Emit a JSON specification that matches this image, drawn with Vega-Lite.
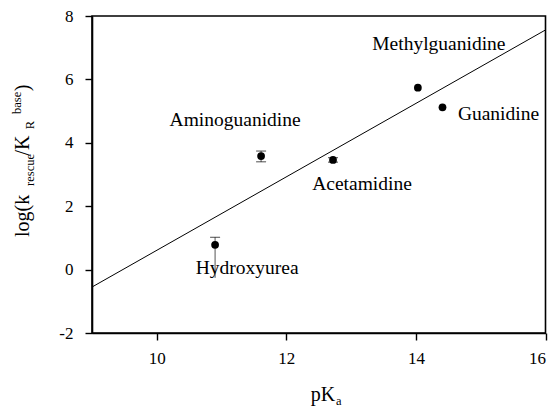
{
  "$schema": "https://vega.github.io/schema/vega-lite/v6.json",
  "width": 453.5,
  "height": 317,
  "autosize": {"type": "none"},
  "padding": {"left": 92, "top": 16, "right": 11, "bottom": 75},
  "background": "white",
  "datasets": {
    "pts": [
      {"compound": "Hydroxyurea", "pKa": 10.9, "logk": 0.78, "lo": -0.26, "hi": 1.02},
      {"compound": "Aminoguanidine", "pKa": 11.61, "logk": 3.58, "lo": 3.4, "hi": 3.74},
      {"compound": "Acetamidine", "pKa": 12.72, "logk": 3.46, "lo": 3.39, "hi": 3.53},
      {"compound": "Methylguanidine", "pKa": 14.03, "logk": 5.74, "lo": 5.74, "hi": 5.74},
      {"compound": "Guanidine", "pKa": 14.41, "logk": 5.12, "lo": 5.12, "hi": 5.12}
    ],
    "fit": [
      {"pKa": 9, "logk": -0.55},
      {"pKa": 16, "logk": 7.56}
    ],
    "one": [{}]
  },
  "config": {
    "view": {"stroke": "black", "strokeWidth": 1.6}
  },
  "layer": [
    {
      "data": {"name": "fit"},
      "mark": {"type": "line", "color": "black", "strokeWidth": 1},
      "encoding": {
        "x": {"field": "pKa", "type": "quantitative", "scale": {"domain": [9, 16], "nice": false, "zero": false},
              "axis": {"values": [10, 12, 14, 16], "labelExpr": "'' + datum.value", "labelPadding": 10, "title": null, "grid": false,
                       "domainColor": "black", "domainWidth": 1.6, "tickColor": "black", "tickWidth": 1.4, "tickSize": 7,
                       "labelFont": "Liberation Serif", "labelFontSize": 17, "labelColor": "black"}},
        "y": {"field": "logk", "type": "quantitative", "scale": {"domain": [-2, 8], "nice": false, "zero": false},
              "axis": {"values": [-2, 0, 2, 4, 6, 8], "labelExpr": "'' + datum.value", "labelPadding": 12, "title": null, "grid": false,
                       "domainColor": "black", "domainWidth": 1.6, "tickColor": "black", "tickWidth": 1.4, "tickSize": 7,
                       "labelFont": "Liberation Serif", "labelFontSize": 17, "labelColor": "black"}}
      }
    },
    {
      "data": {"name": "pts"},
      "transform": [{"filter": "datum.hi > datum.lo"}],
      "mark": {"type": "rule", "color": "#555", "strokeWidth": 1},
      "encoding": {
        "x": {"field": "pKa", "type": "quantitative"},
        "y": {"field": "lo", "type": "quantitative"},
        "y2": {"field": "hi"}
      }
    },
    {
      "data": {"name": "pts"},
      "transform": [{"filter": "datum.hi > datum.lo"}],
      "mark": {"type": "tick", "orient": "horizontal", "color": "black", "size": 10, "thickness": 1},
      "encoding": {
        "x": {"field": "pKa", "type": "quantitative"},
        "y": {"field": "hi", "type": "quantitative"}
      }
    },
    {
      "data": {"name": "pts"},
      "transform": [{"filter": "datum.hi > datum.lo && datum.compound != 'Hydroxyurea'"}],
      "mark": {"type": "tick", "orient": "horizontal", "color": "black", "size": 10, "thickness": 1},
      "encoding": {
        "x": {"field": "pKa", "type": "quantitative"},
        "y": {"field": "lo", "type": "quantitative"}
      }
    },
    {
      "data": {"name": "pts"},
      "mark": {"type": "circle", "color": "black", "opacity": 1, "size": 60},
      "encoding": {
        "x": {"field": "pKa", "type": "quantitative"},
        "y": {"field": "logk", "type": "quantitative"}
      }
    },
    {
      "data": {"name": "pts"},
      "transform": [{"filter": "datum.compound == 'Hydroxyurea'"}],
      "mark": {"type": "text", "font": "Liberation Serif", "fontSize": 19.5, "color": "black", "align": "center", "baseline": "alphabetic", "dx": 32, "dy": 29},
      "encoding": {"x": {"field": "pKa", "type": "quantitative"}, "y": {"field": "logk", "type": "quantitative"}, "text": {"field": "compound"}}
    },
    {
      "data": {"name": "pts"},
      "transform": [{"filter": "datum.compound == 'Aminoguanidine'"}],
      "mark": {"type": "text", "font": "Liberation Serif", "fontSize": 19.5, "color": "black", "align": "center", "baseline": "alphabetic", "dx": -26, "dy": -30},
      "encoding": {"x": {"field": "pKa", "type": "quantitative"}, "y": {"field": "logk", "type": "quantitative"}, "text": {"field": "compound"}}
    },
    {
      "data": {"name": "pts"},
      "transform": [{"filter": "datum.compound == 'Acetamidine'"}],
      "mark": {"type": "text", "font": "Liberation Serif", "fontSize": 19.5, "color": "black", "align": "center", "baseline": "alphabetic", "dx": 29, "dy": 30},
      "encoding": {"x": {"field": "pKa", "type": "quantitative"}, "y": {"field": "logk", "type": "quantitative"}, "text": {"field": "compound"}}
    },
    {
      "data": {"name": "pts"},
      "transform": [{"filter": "datum.compound == 'Methylguanidine'"}],
      "mark": {"type": "text", "font": "Liberation Serif", "fontSize": 19.5, "color": "black", "align": "center", "baseline": "alphabetic", "dx": 21, "dy": -38},
      "encoding": {"x": {"field": "pKa", "type": "quantitative"}, "y": {"field": "logk", "type": "quantitative"}, "text": {"field": "compound"}}
    },
    {
      "data": {"name": "pts"},
      "transform": [{"filter": "datum.compound == 'Guanidine'"}],
      "mark": {"type": "text", "font": "Liberation Serif", "fontSize": 19.5, "color": "black", "align": "center", "baseline": "alphabetic", "dx": 56, "dy": 13},
      "encoding": {"x": {"field": "pKa", "type": "quantitative"}, "y": {"field": "logk", "type": "quantitative"}, "text": {"field": "compound"}}
    },
    {
      "data": {"name": "one"},
      "mark": {"type": "text", "font": "Liberation Serif", "fontSize": 20, "color": "black", "angle": -90, "align": "left", "baseline": "alphabetic", "text": "log(k"},
      "encoding": {"x": {"datum": 8.03, "type": "quantitative"}, "y": {"datum": 1.03, "type": "quantitative"}}
    },
    {
      "data": {"name": "one"},
      "mark": {"type": "text", "font": "Liberation Serif", "fontSize": 12.5, "color": "black", "angle": -90, "align": "left", "baseline": "alphabetic", "text": "rescue"},
      "encoding": {"x": {"datum": 8.11, "type": "quantitative"}, "y": {"datum": 2.64, "type": "quantitative"}}
    },
    {
      "data": {"name": "one"},
      "mark": {"type": "text", "font": "Liberation Serif", "fontSize": 20, "color": "black", "angle": -90, "align": "left", "baseline": "alphabetic", "text": "/K"},
      "encoding": {"x": {"datum": 8.03, "type": "quantitative"}, "y": {"datum": 3.6, "type": "quantitative"}}
    },
    {
      "data": {"name": "one"},
      "mark": {"type": "text", "font": "Liberation Serif", "fontSize": 12.5, "color": "black", "angle": -90, "align": "left", "baseline": "alphabetic", "text": "R"},
      "encoding": {"x": {"datum": 8.11, "type": "quantitative"}, "y": {"datum": 4.43, "type": "quantitative"}}
    },
    {
      "data": {"name": "one"},
      "mark": {"type": "text", "font": "Liberation Serif", "fontSize": 12.5, "color": "black", "angle": -90, "align": "left", "baseline": "alphabetic", "text": "base"},
      "encoding": {"x": {"datum": 7.905, "type": "quantitative"}, "y": {"datum": 4.91, "type": "quantitative"}}
    },
    {
      "data": {"name": "one"},
      "mark": {"type": "text", "font": "Liberation Serif", "fontSize": 20, "color": "black", "angle": -90, "align": "left", "baseline": "alphabetic", "text": ")"},
      "encoding": {"x": {"datum": 8.03, "type": "quantitative"}, "y": {"datum": 5.63, "type": "quantitative"}}
    },
    {
      "data": {"name": "one"},
      "mark": {"type": "text", "font": "Liberation Serif", "fontSize": 20, "color": "black", "align": "left", "baseline": "alphabetic", "text": "pK"},
      "encoding": {"x": {"datum": 12.377, "type": "quantitative"}, "y": {"datum": -4.15, "type": "quantitative"}}
    },
    {
      "data": {"name": "one"},
      "mark": {"type": "text", "font": "Liberation Serif", "fontSize": 12.5, "color": "black", "align": "left", "baseline": "alphabetic", "text": "a"},
      "encoding": {"x": {"datum": 12.767, "type": "quantitative"}, "y": {"datum": -4.28, "type": "quantitative"}}
    }
  ]
}
